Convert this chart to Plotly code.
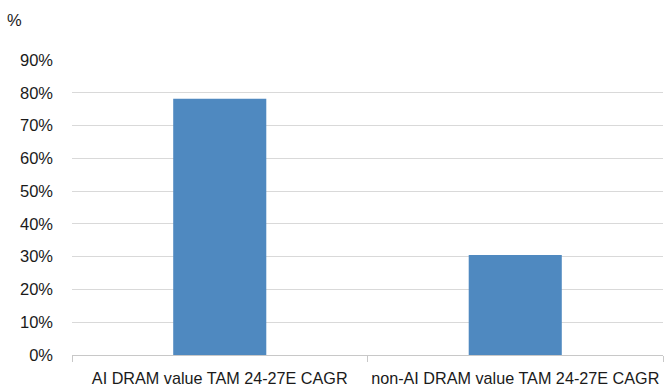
import plotly.graph_objects as go

categories = ["AI DRAM value TAM 24-27E CAGR", "non-AI DRAM value TAM 24-27E CAGR"]
cagr_pct = [78.2, 30.5]
y_ticks = [0, 10, 20, 30, 40, 50, 60, 70, 80, 90]
y_tick_labels = [f"{v}%" for v in y_ticks]

FONT = "Liberation Sans, Arial, sans-serif"

fig = go.Figure(go.Bar(x=categories, y=cagr_pct, marker=dict(color="#4f89c0", line=dict(width=0))))

fig.update_layout(
    width=664, height=392,
    margin=dict(l=72, r=1, t=60, b=37, autoexpand=False),
    paper_bgcolor="white", plot_bgcolor="white",
    bargap=0.685,
    showlegend=False,
    font=dict(family=FONT, size=16.5, color="#1a1a1a"),
    annotations=[dict(text="%", xref="paper", yref="paper", x=-67 / 591, y=1 + (60 - 20) / 295,
                      xanchor="left", yanchor="middle", showarrow=False,
                      font=dict(size=16.5, color="#1a1a1a"))],
)
fig.update_yaxes(range=[0, 90], tickmode="array", tickvals=y_ticks, ticktext=y_tick_labels,
                 showgrid=True, gridcolor="#d9d9d9", gridwidth=1, zeroline=False, showline=False,
                 ticks="", ticklabelstandoff=18, automargin=False)
fig.update_xaxes(showline=True, linecolor="#c8c8c8", linewidth=1, ticks="outside",
                 tickson="boundaries", ticklen=6, tickcolor="#c8c8c8", showgrid=False,
                 tickangle=0, ticklabelstandoff=9, automargin=False,
                 tickfont=dict(size=16.2))

fig.write_html(
    "out.html",
    config={"displayModeBar": False},
    post_script="document.body.style.margin='0';document.body.style.overflow='hidden';",
)
